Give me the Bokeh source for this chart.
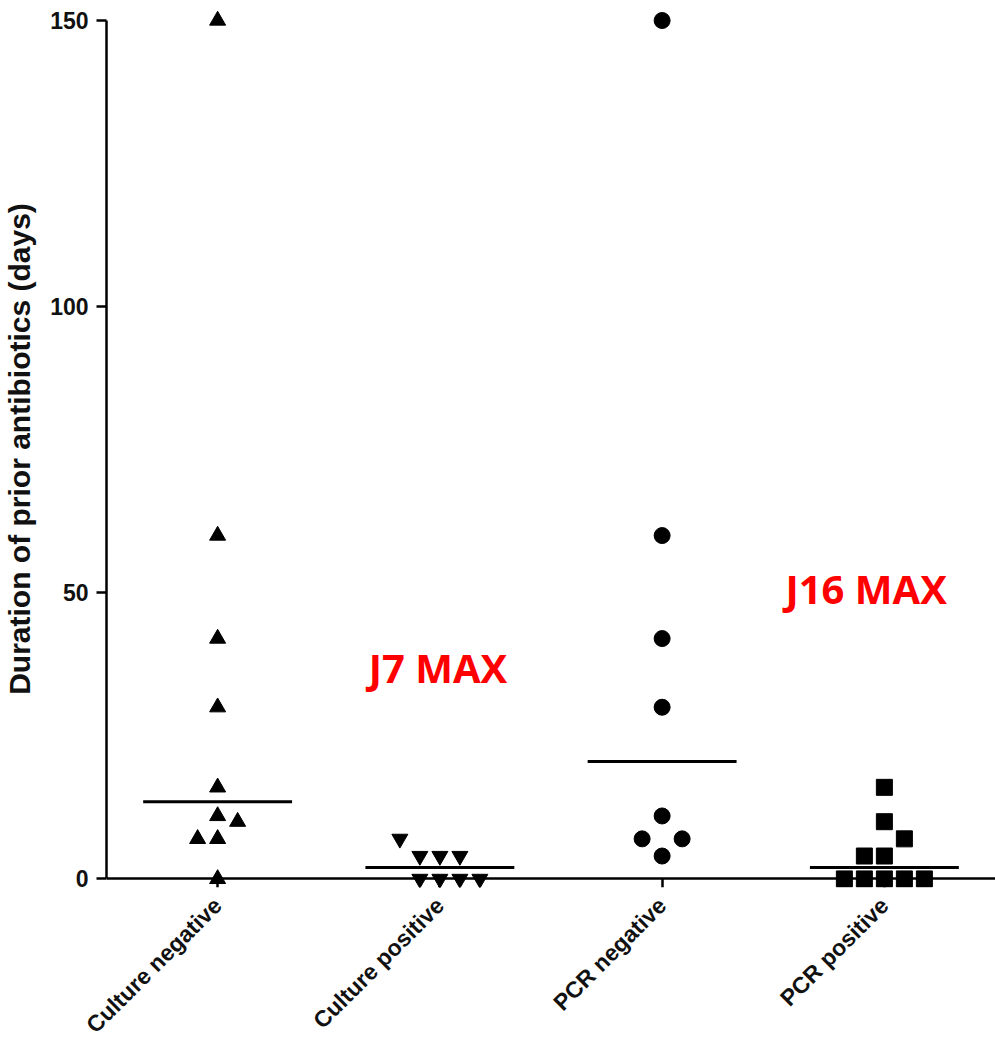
import numpy as np
from bokeh.plotting import figure
from bokeh.models import Range1d, LinearAxis, FixedTicker, Label, ColumnDataSource
from bokeh.embed import file_html
from bokeh.resources import INLINE

# ---- data ----
categories = ["Culture negative", "Culture positive", "PCR negative", "PCR positive"]

culture_negative = [150, 60, 42, 30, 16, 11, 10, 7, 7, 0]
culture_negative_slot = [0, 0, 0, 0, 0, 0, 1, -1, 0, 0]

culture_positive = [7, 4, 4, 4, 0, 0, 0, 0]
culture_positive_slot = [-2, -1, 0, 1, -1, 0, 1, 2]

pcr_negative = [150, 60, 42, 30, 11, 7, 7, 4]
pcr_negative_slot = [0, 0, 0, 0, 0, -1, 1, 0]

pcr_positive = [16, 10, 7, 4, 4, 0, 0, 0, 0, 0]
pcr_positive_slot = [0, 0, 1, -1, 0, -2, -1, 0, 1, 2]

y_ticks = [0, 50, 100, 150]
y_label = "Duration of prior antibiotics (days)"

annotations = [("J7 MAX", 0.68, 36.9), ("J16 MAX", 2.555, 50.7)]

groups = [
    (culture_negative, culture_negative_slot, "triangle"),
    (culture_positive, culture_positive_slot, "inverted_triangle"),
    (pcr_negative, pcr_negative_slot, "circle"),
    (pcr_positive, pcr_positive_slot, "square"),
]

SLOT = 0.09
HALF = 0.335

p = figure(width=995, height=1050,
           x_range=Range1d(-0.5, 3.5), y_range=Range1d(-1.5, 151.75),
           x_axis_type=None, y_axis_type=None,
           output_backend="svg", toolbar_location=None,
           min_border_left=106, min_border_right=0,
           min_border_top=10, min_border_bottom=163)
p.grid.visible = False
p.outline_line_color = None
p.background_fill_color = "white"
p.border_fill_color = "white"

font = "Liberation Sans"
ink = "#111111"

yaxis = LinearAxis(ticker=FixedTicker(ticks=y_ticks), bounds=(0, 150))
yaxis.axis_label = y_label
yaxis.axis_label_text_font = font
yaxis.axis_label_text_font_style = "bold"
yaxis.axis_label_text_font_size = "30px"
yaxis.axis_label_text_color = ink
yaxis.axis_label_standoff = 11
yaxis.major_label_text_font = font
yaxis.major_label_text_font_style = "bold"
yaxis.major_label_text_font_size = "23px"
yaxis.major_label_text_color = ink
yaxis.major_label_standoff = 8
yaxis.major_tick_out = 10
yaxis.major_tick_in = 0
yaxis.minor_tick_line_color = None
yaxis.axis_line_width = 2.5
yaxis.major_tick_line_width = 2.5
p.add_layout(yaxis, "left")

x_ticker = FixedTicker(ticks=list(range(len(categories))))

# axis line + ticks at y = 0 (labels drawn by the axis below)
xline = LinearAxis(ticker=x_ticker, fixed_location=0)
xline.major_label_text_color = None
xline.major_tick_out = 9
xline.major_tick_in = 0
xline.minor_tick_line_color = None
xline.axis_line_width = 2.5
xline.major_tick_line_width = 2.5
p.add_layout(xline, "below")

# category labels
xlab = LinearAxis(ticker=x_ticker)
xlab.axis_line_color = None
xlab.major_tick_line_color = None
xlab.minor_tick_line_color = None
xlab.major_tick_out = 0
xlab.major_tick_in = 0
xlab.major_label_overrides = {i: c for i, c in enumerate(categories)}
xlab.major_label_orientation = np.pi / 4
xlab.major_label_text_font = font
xlab.major_label_text_font_style = "bold"
xlab.major_label_text_font_size = "23px"
xlab.major_label_text_color = ink
xlab.major_label_standoff = 14
p.add_layout(xlab, "below")

for i, (vals, slots, marker) in enumerate(groups):
    src = ColumnDataSource(dict(x=[i + s * SLOT for s in slots], y=vals))
    p.scatter("x", "y", source=src, marker=marker, size=16,
              fill_color="black", line_color="black")
    med = float(np.median(vals))
    p.segment(x0=[i - HALF], y0=[med], x1=[i + HALF], y1=[med],
              line_color="black", line_width=3)

for txt, x, y in annotations:
    p.add_layout(Label(x=x, y=y, text=txt, text_font="Open Sans",
                       text_font_style="bold", text_font_size="40px",
                       text_color="#FF0000", text_baseline="alphabetic"))

open("out.html", "w").write(file_html(p, INLINE))
